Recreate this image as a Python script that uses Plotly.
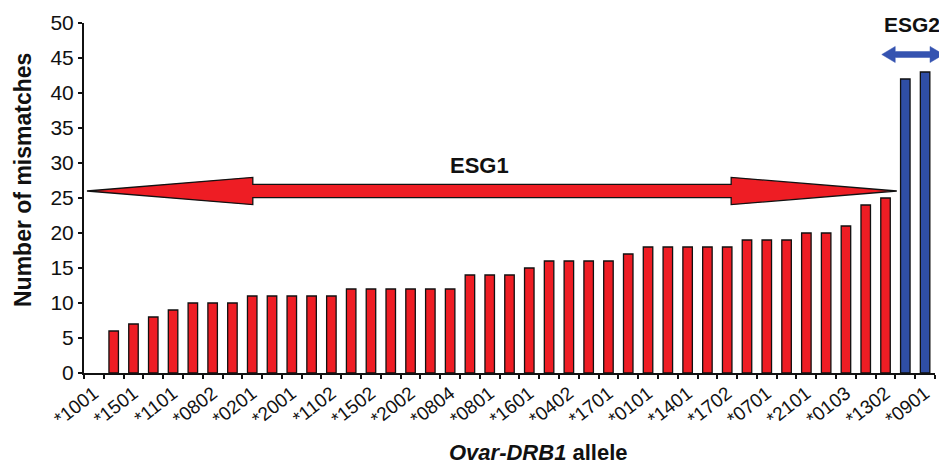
import plotly.graph_objects as go

alleles = ["*1001", "", "*1501", "", "*1101", "", "*0802", "", "*0201", "", "*2001", "",
           "*1102", "", "*1502", "", "*2002", "", "*0804", "", "*0801", "", "*1601", "",
           "*0402", "", "*1701", "", "*0101", "", "*1401", "", "*1702", "", "*0701", "",
           "*2101", "", "*0103", "", "*1302", "", "*0901"]
mismatches = [0, 6, 7, 8, 9, 10, 10, 10, 11, 11, 11, 11, 11, 12, 12, 12, 12, 12, 12, 14,
              14, 14, 15, 16, 16, 16, 16, 17, 18, 18, 18, 18, 18, 19, 19, 19, 20, 20, 21,
              24, 25, 42, 43]
groups = ["ESG1"] * 41 + ["ESG2"] * 2

RED = "#EE1D24"
BLUE = "#2F4EA6"

xs = list(range(len(mismatches)))
n = len(xs)
colors = [RED if g == "ESG1" else BLUE for g in groups]
line_w = [1.3 if v > 0 else 0 for v in mismatches]

fig = go.Figure()
fig.add_trace(go.Bar(
    x=xs, y=mismatches, width=0.48,
    marker=dict(color=colors, line=dict(color="#111111", width=line_w)),
    showlegend=False,
))

tickvals = [i for i, a in enumerate(alleles) if a]
ticktext = [a for a in alleles if a]

# ESG1 double arrow (data coords)
yc, sh, hh = 26.0, 0.95, 1.95
xl, xlb, xrb, xr = -0.35, 8.03, 32.2, 40.57
path1 = (f"M {xl},{yc} L {xlb},{yc+hh} L {xlb},{yc+sh} L {xrb},{yc+sh} L {xrb},{yc+hh} "
         f"L {xr},{yc} L {xrb},{yc-hh} L {xrb},{yc-sh} L {xlb},{yc-sh} L {xlb},{yc-hh} Z")

# ESG2 double arrow (paper coords, extends beyond the axis)
def px(x):
    return (x + 0.5) / n
def py(y):
    return y / 50.0
b_yc, b_sh, b_hh = 45.5, 0.42, 1.15
b_l, b_r, b_head = 39.81, 42.93, 0.68
path2 = (f"M {px(b_l)},{py(b_yc)} L {px(b_l+b_head)},{py(b_yc+b_hh)} L {px(b_l+b_head)},{py(b_yc+b_sh)} "
         f"L {px(b_r-b_head)},{py(b_yc+b_sh)} L {px(b_r-b_head)},{py(b_yc+b_hh)} L {px(b_r)},{py(b_yc)} "
         f"L {px(b_r-b_head)},{py(b_yc-b_hh)} L {px(b_r-b_head)},{py(b_yc-b_sh)} L {px(b_l+b_head)},{py(b_yc-b_sh)} "
         f"L {px(b_l+b_head)},{py(b_yc-b_hh)} Z")

# page has an 8px body margin; plot area target on page: x 84..935, y 23..373
OFF = 8
ML, MR, MT, MB = 84 - OFF, 12, 23 - OFF, 94
W, H = 947 - OFF, 467 - OFF
pw = W - ML - MR
ph = H - MT - MB

def pxx(p):
    return (p - OFF - ML) / pw
def pyy(p):
    return (H - MB - (p - OFF)) / ph

ann = dict(showarrow=False, xanchor="center", yanchor="middle")

fig.update_layout(
    width=W, height=H,
    margin=dict(l=ML, r=MR, t=MT, b=MB, autoexpand=False),
    paper_bgcolor="white", plot_bgcolor="white",
    font=dict(family="Liberation Sans, Arial, sans-serif", color="#111111"),
    shapes=[
        dict(type="path", path=path1, xref="x", yref="y",
             fillcolor=RED, line=dict(color="#111111", width=1.3), layer="above"),
        dict(type="path", path=path2, xref="paper", yref="paper",
             fillcolor="#3553B0", line=dict(color="#3553B0", width=0.5), layer="above"),
    ],
    annotations=[
        dict(text="<b>ESG1</b>", x=19.5, y=29.7, xref="x", yref="y",
             font=dict(size=22, color="#111111"), **ann),
        dict(text="<b>ESG2</b>", x=pxx(912), y=pyy(24), xref="paper", yref="paper",
             font=dict(size=21, color="#111111"), **ann),
        dict(text="<b>Number of mismatches</b>", x=pxx(23), y=pyy(180), xref="paper", yref="paper",
             textangle=-90, font=dict(size=23, color="#111111"), **ann),
        dict(text="<b><i>Ovar-DRB1</i> allele</b>", x=pxx(538), y=pyy(452), xref="paper", yref="paper",
             font=dict(size=22, color="#111111"), **ann),
    ],
)

fig.update_xaxes(
    range=[-0.5, n - 0.5], automargin=False,
    tickmode="array", tickvals=tickvals, ticktext=ticktext,
    tickangle=-38, tickfont=dict(size=19, color="#111111"),
    ticks="", showgrid=False, zeroline=False,
    showline=True, linecolor="#111111", linewidth=2,
    minor=dict(tickmode="linear", tick0=-0.5, dtick=1, ticks="outside",
               ticklen=4, tickwidth=1.5, tickcolor="#111111", showgrid=False),
)
fig.update_yaxes(
    range=[0, 50], tickmode="linear", tick0=0, dtick=5, automargin=False,
    tickfont=dict(size=21, color="#111111"),
    ticks="outside", ticklen=4, tickwidth=1.5, tickcolor="#111111",
    showgrid=False, zeroline=False,
    showline=True, linecolor="#111111", linewidth=2,
)

fig.write_html("out.html")
